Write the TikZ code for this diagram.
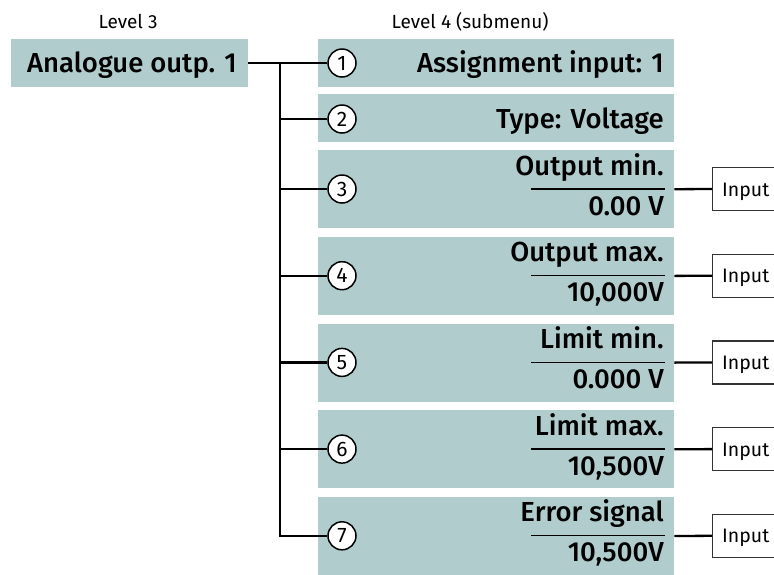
\documentclass[tikz,border=0pt]{standalone}
\usepackage{fontspec}
\setmainfont{Fira Sans}[BoldFont={Fira Sans Medium}]
\definecolor{boxc}{RGB}{176,204,204}
\definecolor{inbord}{RGB}{50,50,50}
\begin{document}
\begin{tikzpicture}[x=1pt,y=-1pt,
  menubox/.style={fill=boxc, draw=none, anchor=north west, minimum width=356pt, inner sep=0pt},
  lvlbox/.style={fill=boxc, draw=none, anchor=north west, minimum width=237pt, minimum height=48pt, inner sep=0pt},
  boxtxt/.style={font=\fontsize{27.5}{30}\selectfont\bfseries, anchor=base east, inner sep=0pt},
  hdr/.style={font=\fontsize{19}{21}\selectfont, anchor=base, inner sep=0pt},
  num/.style={circle, draw=black, line width=1.5pt, fill=white, minimum size=28pt, inner sep=0pt, font=\fontsize{21}{22}\selectfont},
  conn/.style={draw=black, line width=2.3pt},
  divline/.style={draw=black, line width=1.3pt},
  inbox/.style={draw=inbord, line width=1.2pt, fill=white, anchor=west, minimum width=90pt, minimum height=43pt, inner sep=0pt},
  intxt/.style={font=\fontsize{19.5}{21}\selectfont, anchor=base west, inner sep=0pt}]
\useasboundingbox (0,0) rectangle (774,574);
% headers
\node[hdr] (h3) at (128,28) {Level 3};
\node[hdr] (h4) at (470,28) {Level 4 (submenu)};
% level 3 box
\node[lvlbox] (l3) at (11,39) {};
\node[font=\fontsize{27.5}{30}\selectfont\bfseries, anchor=base, inner sep=0pt] (l3t) at (132,72) {Analogue outp. 1};
% boxes 1 and 2
\node[menubox, minimum height=48pt] (b1) at (318,39) {};
\node[menubox, minimum height=48pt] (b2) at (318,94) {};
\node[boxtxt] (t1) at (664,72) {Assignment input: 1};
\node[boxtxt] (t2) at (664,128) {Type: Voltage};
\node[num] (c1) at (342,63) {1};
\node[num] (c2) at (342,119) {2};
% boxes 3..7
\foreach \k/\top/\lab/\val in {3/150/Output min./0.00 V, 4/236.7/Output max./{10,000V}, 5/323.4/Limit min./0.000 V, 6/410.1/Limit max./{10,500V}, 7/496.8/Error signal/{10,500V}}{
  \node[menubox, minimum height=78pt] (b\k) at (318,\top) {};
  \node[boxtxt] (la\k) at (664,\top+25) {\lab};
  \node[boxtxt] (va\k) at (664,\top+65) {\val};
  \coordinate (dl\k) at (531,\top+39);
  \coordinate (dr\k) at (665,\top+39);
  \draw[divline] (dl\k) -- (dr\k);
  \node[num] (c\k) at (342,\top+39) {\k};
  \node[inbox] (in\k) at (712,\top+39) {};
  \node[intxt] (it\k) at (722,\top+46) {Input};
  \draw[conn] (b\k.east) -- (in\k.west);
}
% connectors
\coordinate (t0) at (280,63);
\draw[conn] (l3.east |- c1) -- (c1.west);
\draw[conn] (t0) |- (c7.west);
\foreach \k in {2,...,6}{
  \draw[conn] (t0 |- c\k) -- (c\k.west);
}
\end{tikzpicture}
\end{document}
